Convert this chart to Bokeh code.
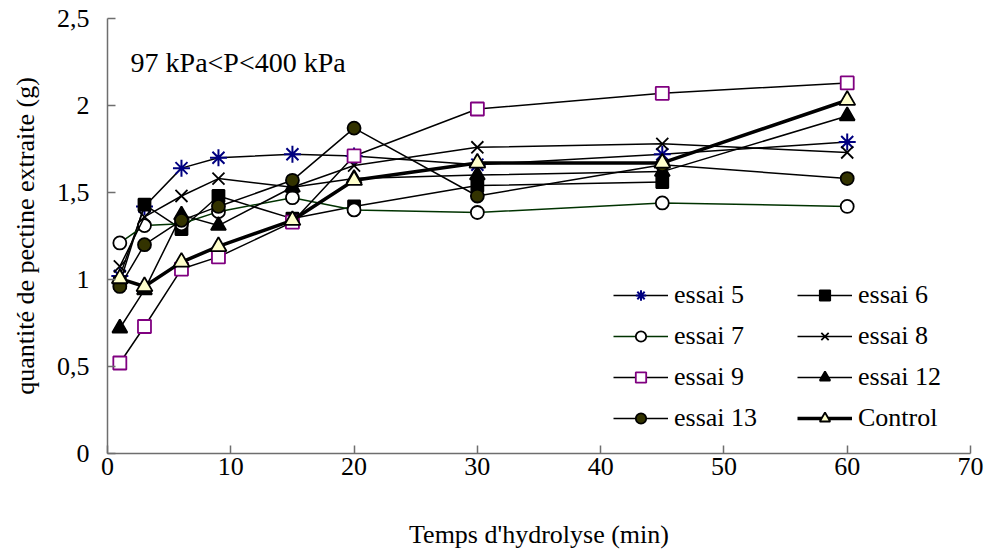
from bokeh.plotting import figure
from bokeh.models import Range1d, Legend, LegendItem, Label, CustomJSTickFormatter
from bokeh.embed import file_html
from bokeh.resources import INLINE

nan = float("nan")

# ---- data ----
time_min = [1, 3, 6, 9, 15, 20, 30, 45, 60]
essai5 = [1.02, 1.42, 1.64, 1.70, 1.72, 1.71, 1.66, 1.72, 1.79]
essai6 = [0.98, 1.43, 1.29, 1.48, 1.35, 1.42, 1.54, 1.56, nan]
essai7 = [1.21, 1.31, 1.32, 1.39, 1.47, 1.40, 1.385, 1.44, 1.42]
essai8 = [1.075, 1.36, 1.48, 1.58, 1.53, 1.655, 1.76, 1.78, 1.73]
essai9 = [0.52, 0.73, 1.06, 1.13, 1.33, 1.71, 1.98, 2.07, 2.13]
essai12 = [0.72, 0.94, 1.37, 1.31, 1.53, 1.58, 1.60, 1.62, 1.94]
essai13 = [0.96, 1.20, 1.34, 1.42, 1.57, 1.87, 1.48, 1.66, 1.58]
control = [1.005, 0.96, 1.10, 1.19, 1.34, 1.57, 1.67, 1.67, 2.03]

x_ticks = [0, 10, 20, 30, 40, 50, 60, 70]
y_ticks = [0, 0.5, 1, 1.5, 2, 2.5]

FONT = "Liberation Serif"
FS = "26px"

p = figure(width=988, height=551, output_backend="svg", toolbar_location=None,
           x_range=Range1d(0, 70), y_range=Range1d(0, 2.5),
           min_border_left=107, min_border_right=18, min_border_top=18, min_border_bottom=98)
p.outline_line_color = None
p.xgrid.visible = False
p.ygrid.visible = False
p.background_fill_color = "white"
p.border_fill_color = "white"

for ax in (p.xaxis[0], p.yaxis[0]):
    ax.axis_line_color = "#6e6e6e"
    ax.axis_line_width = 1.5
    ax.major_tick_line_color = "#6e6e6e"
    ax.major_tick_line_width = 1.5
    ax.major_tick_in = 8
    ax.major_tick_out = 0
    ax.minor_tick_line_color = None
    ax.major_label_text_font = FONT
    ax.major_label_text_font_size = FS
    ax.major_label_text_color = "black"
    ax.axis_label_text_font = FONT
    ax.axis_label_text_font_size = FS
    ax.axis_label_text_font_style = "normal"
    ax.axis_label_text_color = "black"

p.xaxis.ticker = x_ticks
p.yaxis.ticker = y_ticks
p.yaxis.formatter = CustomJSTickFormatter(code="return tick.toString().replace('.', ',');")
p.xaxis.axis_label = "Temps d'hydrolyse (min)"
p.yaxis.axis_label = "quantité de pectine extraite (g)"
p.xaxis.major_label_standoff = 4
p.xaxis.axis_label_standoff = 42
p.yaxis.major_label_standoff = 18
p.yaxis.axis_label_standoff = 14

series = [
    ("essai 5", essai5, "asterisk", "black", 1.5, "#000080", "#000080", 17, 2.0),
    ("essai 6", essai6, "square", "black", 1.5, "black", "black", 12, 1.8),
    ("essai 7", essai7, "circle", "#003300", 1.5, "black", "white", 13, 1.8),
    ("essai 8", essai8, "x", "black", 1.5, "black", "black", 17, 1.8),
    ("essai 9", essai9, "square", "black", 1.5, "#800080", "white", 13, 1.8),
    ("essai 12", essai12, "triangle", "black", 1.5, "black", "black", 15, 1.8),
    ("essai 13", essai13, "circle", "black", 1.5, "black", "#333300", 13, 1.8),
    ("Control", control, "triangle", "black", 3.5, "black", "#FFFFCC", 16, 1.8),
]

items = {}
for name, ys, marker, lc, lw, mc, fc, sz, mlw in series:
    r1 = p.line(time_min, ys, line_color=lc, line_width=lw)
    r2 = p.scatter(time_min, ys, marker=marker, size=sz, line_color=mc,
                   fill_color=fc, line_width=mlw)
    items[name] = LegendItem(label=name, renderers=[r1, r2])

def make_legend(names, x):
    leg = Legend(items=[items[n] for n in names], location=(x, 20),
                 orientation="vertical", padding=0, margin=0,
                 border_line_alpha=0, background_fill_alpha=0,
                 glyph_width=55, glyph_height=26, label_height=26,
                 label_standoff=6, spacing=11,
                 label_text_font=FONT, label_text_font_size=FS,
                 label_text_color="black")
    return leg

p.add_layout(make_legend(["essai 5", "essai 7", "essai 9", "essai 13"], 506), "center")
p.add_layout(make_legend(["essai 6", "essai 8", "essai 12", "Control"], 690), "center")

p.add_layout(Label(x=1.87, y=2.25, text="97 kPa<P<400 kPa", text_font=FONT,
                   text_font_size="28px", text_baseline="middle", text_color="black"))

open("out.html", "w").write(file_html(p, INLINE))
